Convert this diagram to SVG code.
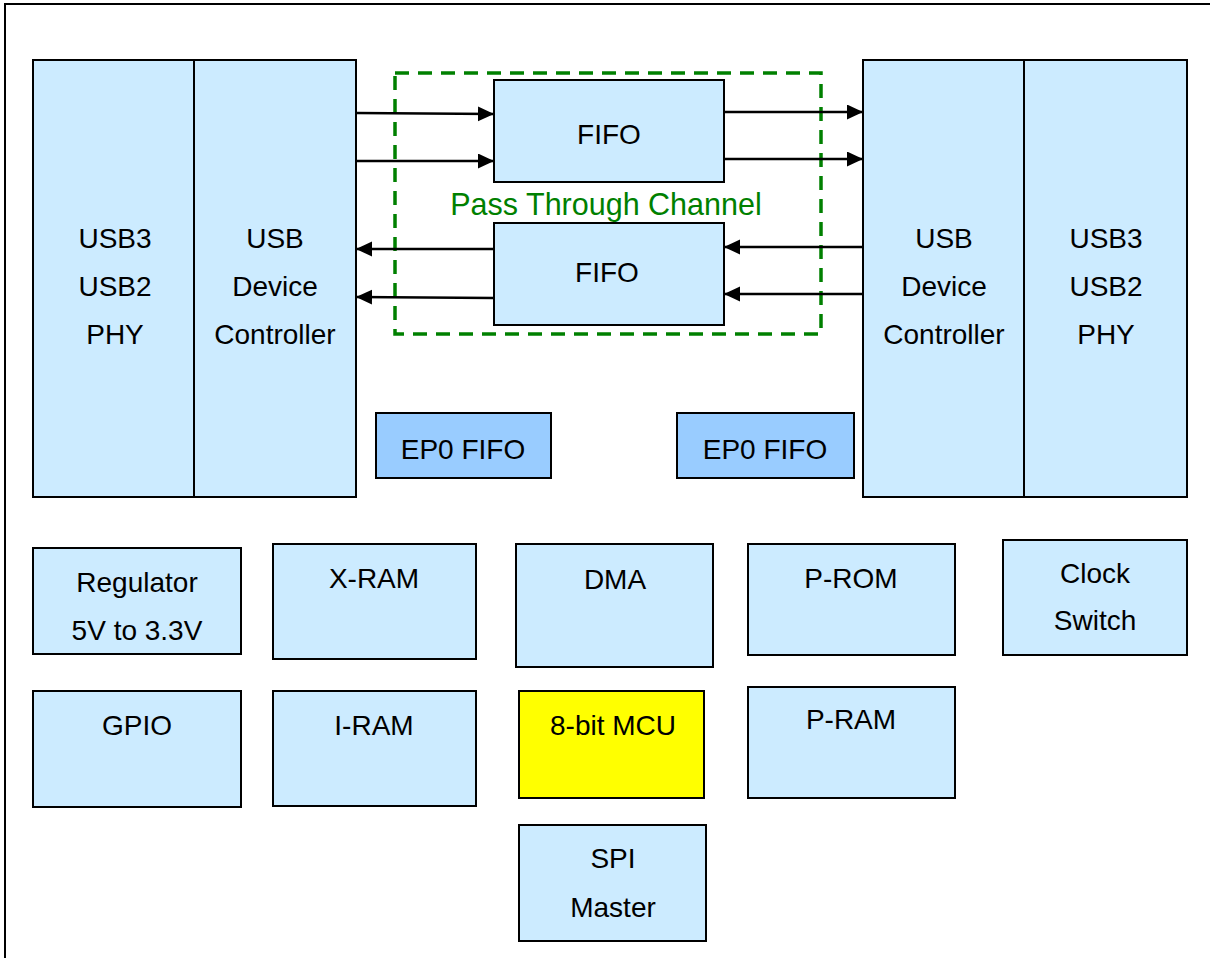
<svg xmlns="http://www.w3.org/2000/svg" width="1210" height="958" viewBox="0 0 1210 958">
<defs>
<style>
.box{fill:#CCEBFF;stroke:#000;stroke-width:2}
.ep0{fill:#99CCFF;stroke:#000;stroke-width:2}
.mcu{fill:#FFFF00;stroke:#000;stroke-width:2}
.t{font-family:"Liberation Sans",Arial,sans-serif;font-size:28px;fill:#000;text-anchor:middle}
.g{font-family:"Liberation Sans",Arial,sans-serif;font-size:30.5px;fill:#008000;text-anchor:middle}
.arr{stroke:#000;stroke-width:2.5;fill:none;marker-end:url(#ah)}
.dash{fill:none;stroke:#008000;stroke-width:3.5;stroke-dasharray:14 9}
</style>
<marker id="ah" markerUnits="userSpaceOnUse" markerWidth="18" markerHeight="18" refX="16" refY="7.5" orient="auto">
<path d="M0,0 L16,7.5 L0,15 Z" fill="#000"/>
</marker>
</defs>
<rect x="0" y="0" width="1210" height="958" fill="#fff"/>
<rect x="5" y="4" width="1230" height="1000" fill="none" stroke="#000" stroke-width="2"/>

<g id="left-usb">
<rect class="box" x="33" y="60" width="323" height="437"/>
<line x1="194" y1="60" x2="194" y2="497" stroke="#000" stroke-width="2"/>
<text class="t" x="115" y="248">USB3</text>
<text class="t" x="115" y="296">USB2</text>
<text class="t" x="115" y="344">PHY</text>
<text class="t" x="275" y="248">USB</text>
<text class="t" x="275" y="296">Device</text>
<text class="t" x="275" y="344">Controller</text>
</g>

<g id="right-usb">
<rect class="box" x="863" y="60" width="324" height="437"/>
<line x1="1024" y1="60" x2="1024" y2="497" stroke="#000" stroke-width="2"/>
<text class="t" x="944" y="248">USB</text>
<text class="t" x="944" y="296">Device</text>
<text class="t" x="944" y="344">Controller</text>
<text class="t" x="1106" y="248">USB3</text>
<text class="t" x="1106" y="296">USB2</text>
<text class="t" x="1106" y="344">PHY</text>
</g>

<g id="pass-through">
<rect class="dash" x="395" y="73" width="426" height="261"/>
<text class="g" x="606" y="215">Pass Through Channel</text>
</g>

<g id="fifo-top">
<rect class="box" x="494" y="80" width="230" height="102"/>
<text class="t" x="609" y="144">FIFO</text>
</g>
<g id="fifo-bottom">
<rect class="box" x="494" y="223" width="230" height="102"/>
<text class="t" x="607" y="282">FIFO</text>
</g>

<g id="ep0-left">
<rect class="ep0" x="376" y="413" width="175" height="65"/>
<text class="t" x="463" y="459">EP0 FIFO</text>
</g>
<g id="ep0-right">
<rect class="ep0" x="677" y="413" width="177" height="65"/>
<text class="t" x="765" y="459">EP0 FIFO</text>
</g>

<g id="connectors">
<line class="arr" x1="356" y1="113" x2="494" y2="114"/>
<line class="arr" x1="356" y1="161" x2="494" y2="161"/>
<line class="arr" x1="724" y1="112" x2="863" y2="112"/>
<line class="arr" x1="724" y1="159" x2="863" y2="159"/>
<line class="arr" x1="863" y1="247" x2="724" y2="247"/>
<line class="arr" x1="863" y1="294" x2="724" y2="294"/>
<line class="arr" x1="494" y1="249" x2="356" y2="249"/>
<line class="arr" x1="494" y1="298" x2="356" y2="297"/>
</g>

<g id="regulator">
<rect class="box" x="33" y="548" width="208" height="106"/>
<text class="t" x="137" y="592">Regulator</text>
<text class="t" x="137" y="640">5V to 3.3V</text>
</g>
<g id="x-ram">
<rect class="box" x="273" y="544" width="203" height="115"/>
<text class="t" x="374" y="588">X-RAM</text>
</g>
<g id="dma">
<rect class="box" x="516" y="544" width="197" height="123"/>
<text class="t" x="615" y="589">DMA</text>
</g>
<g id="p-rom">
<rect class="box" x="748" y="544" width="207" height="111"/>
<text class="t" x="851" y="588">P-ROM</text>
</g>
<g id="clock-switch">
<rect class="box" x="1003" y="540" width="184" height="115"/>
<text class="t" x="1095" y="583">Clock</text>
<text class="t" x="1095" y="630">Switch</text>
</g>
<g id="gpio">
<rect class="box" x="33" y="691" width="208" height="116"/>
<text class="t" x="137" y="735">GPIO</text>
</g>
<g id="i-ram">
<rect class="box" x="273" y="691" width="203" height="115"/>
<text class="t" x="374" y="735">I-RAM</text>
</g>
<g id="mcu">
<rect class="mcu" x="519" y="691" width="185" height="107"/>
<text class="t" x="613" y="735">8-bit MCU</text>
</g>
<g id="p-ram">
<rect class="box" x="748" y="687" width="207" height="111"/>
<text class="t" x="851" y="729">P-RAM</text>
</g>
<g id="spi-master">
<rect class="box" x="519" y="825" width="187" height="116"/>
<text class="t" x="613" y="868">SPI</text>
<text class="t" x="613" y="917">Master</text>
</g>
</svg>
